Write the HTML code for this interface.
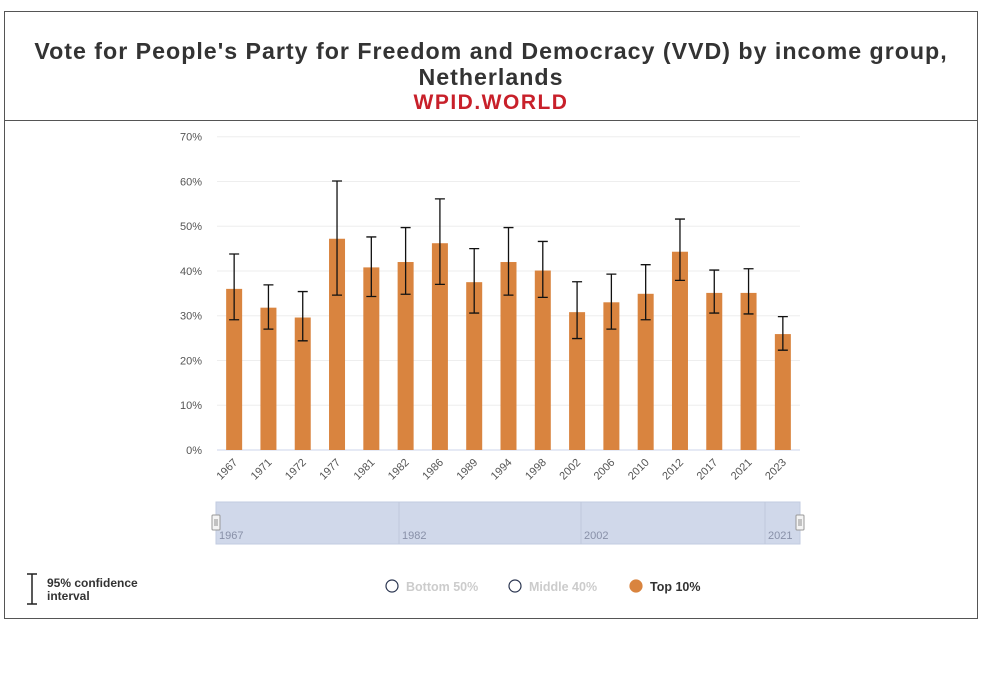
<!DOCTYPE html>
<html><head><meta charset="utf-8"><style>
body{margin:0;width:1000px;height:683px;background:#fff;font-family:"Liberation Sans","DejaVu Sans",sans-serif;position:relative;overflow:hidden}
#frame{position:absolute;left:4px;top:11px;width:972px;height:606px;border:1px solid #555}
#titlebox{position:absolute;left:0;top:0;width:972px;height:108px;border-bottom:1px solid #555;text-align:center}
#t1{margin-top:26px;font-size:23.2px;font-weight:bold;color:#333;letter-spacing:1px;line-height:26px}
#t2{font-size:21px;font-weight:bold;color:#c8202a;letter-spacing:1.5px;line-height:26px}
</style></head><body>
<div id="frame">
<div id="titlebox">
<div id="t1">Vote for People's Party for Freedom and Democracy (VVD) by income group,<br>Netherlands</div>
<div id="t2">WPID.WORLD</div>
</div></div>
<svg id="chart" width="1000" height="683" style="position:absolute;left:0;top:0"></svg>
<script>
const years=["1967","1971","1972","1977","1981","1982","1986","1989","1994","1998","2002","2006","2010","2012","2017","2021","2023"];
const values=[36.0,31.8,29.6,47.2,40.8,42.0,46.2,37.5,42.0,40.1,30.8,33.0,34.9,44.3,35.1,35.1,25.9];
const upper=[43.8,36.9,35.4,60.1,47.6,49.7,56.1,45.0,49.7,46.6,37.6,39.3,41.4,51.6,40.2,40.5,29.8];
const lower=[29.1,27.0,24.4,34.6,34.3,34.8,37.0,30.6,34.6,34.1,24.9,27.0,29.1,37.9,30.6,30.4,22.3];
const yTicks=[0,10,20,30,40,50,60,70];
const navLabels=["1967","1982","2002","2021"];
const NS="http://www.w3.org/2000/svg";
const svg=document.getElementById('chart');
const X0=217,X1=800,Y0=450,Y1=136.7,YMAX=70;
const band=(X1-X0)/years.length;
const xc=i=>X0+band*(i+0.5);
const y=v=>Y0-(v/YMAX)*(Y0-Y1);
function mk(t,a){const e=document.createElementNS(NS,t);for(const k in a)e.setAttribute(k,a[k]);svg.appendChild(e);return e;}
yTicks.forEach(t=>{
 const g=mk('line',{x1:X0,x2:X1,y1:y(t),y2:y(t),stroke:t===0?'#ccd6eb':'#eee','stroke-width':1});
 
 
 const l=mk('text',{x:202,y:y(t)+4,'text-anchor':'end','font-size':11,fill:'#555'});
 l.textContent=t+'%';
 
 
});
years.forEach((yr,i)=>{
 const cx=xc(i),bw=16;
 const r=mk('rect',{x:cx-bw/2,y:y(values[i]),width:bw,height:Y0-y(values[i]),fill:'#d9843f'});
 
 
 const e=mk('path',{d:`M${cx-5},${y(upper[i])}H${cx+5}M${cx},${y(upper[i])}V${y(lower[i])}M${cx-5},${y(lower[i])}H${cx+5}`,stroke:'#111','stroke-width':1.3,fill:'none'});
 
 
 const t=mk('text',{x:cx+4,y:Y0+13,'text-anchor':'end','font-size':11,fill:'#555',transform:`rotate(-45 ${cx+4} ${Y0+13})`});
 t.textContent=yr;
 
 
});
const nav=mk('rect',{x:216,y:502,width:584,height:42,fill:'#d0d8ea',stroke:'#c2cbe0'});


const navX=[216,399,581,765];
navLabels.forEach((l,i)=>{
 if(i>0){const ln=mk('line',{x1:navX[i],x2:navX[i],y1:502,y2:544,stroke:'#c0c8dc'});}
 const t=mk('text',{x:navX[i]+3,y:539,'font-size':11,fill:'#8890a8'});
 t.textContent=l;
 
 
});
[216,800].forEach((hx,i)=>{
 const h=mk('rect',{x:hx-4,y:515,width:8,height:15,fill:'#f4f4f4',stroke:'#999',rx:1});
 
 
 mk('path',{d:`M${hx-1},519V526M${hx+1},519V526`,stroke:'#777','stroke-width':0.8});
});
const ci=mk('path',{d:'M27,574H37M32,574V604M27,604H37',stroke:'#222','stroke-width':1.5,fill:'none'});


const ct=mk('text',{x:47,y:587,'font-size':12,'font-weight':'bold',fill:'#333'});
ct.innerHTML='<tspan x="47">95% confidence</tspan><tspan x="47" dy="13">interval</tspan>';


const leg=[["Bottom 50%",392,false],["Middle 40%",515,false],["Top 10%",636,true]];
leg.forEach(([n,lx,on])=>{
 const c=mk('circle',{cx:lx,cy:586,r:6,fill:on?'#d9843f':'#fff',stroke:on?'#d9843f':'#2a3550','stroke-width':1.2});
 
 
 const t=mk('text',{x:lx+14,y:591,'font-size':12.5,'font-weight':'bold',fill:on?'#333':'#ccc'});
 t.textContent=n;
 
 
});
</script>
</body></html>
